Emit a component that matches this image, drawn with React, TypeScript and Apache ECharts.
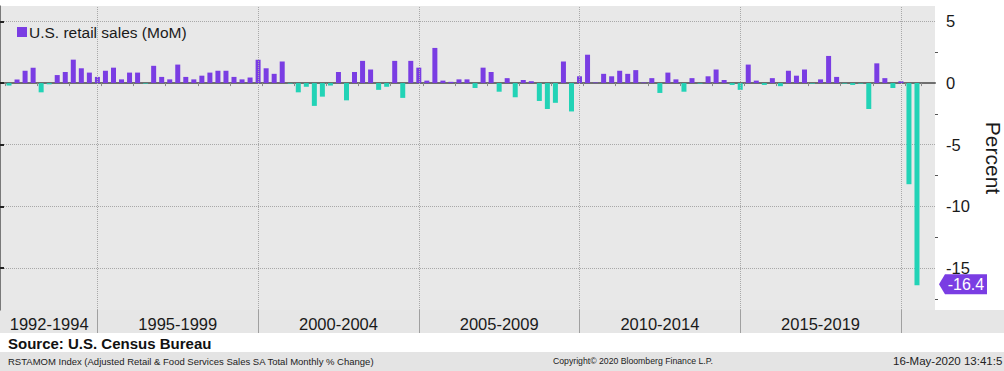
import React, { useEffect, useRef } from "react";
import * as echarts from "echarts";

const seriesName = "U.S. retail sales (MoM)";
const values = [
  -0.2, 0.3, 1.0, 1.25, -0.75, -0.1, 0.65, 0.9, 1.9, 1.2,
  0.85, 0.5, 1.0, 1.25, 0.3, 0.85, 0.85, -0.05, 1.4, 0.5,
  0.3, 1.5, 0.5, 0.3, 0.6, 0.85, 1.0, 1.0, 0.5, 0.3,
  0.45, 1.9, 1.2, 0.75, 1.75, -0.05, -0.75, -0.3, -1.85, -1.1,
  -0.2, 0.9, -1.4, 0.9, 1.8, 1.1, -0.55, -0.3, 1.8, -1.2,
  1.8, 1.25, 0.2, 2.85, 0.2, 0.1, 0.3, 0.3, -0.4, 1.25,
  0.9, -0.7, 0.4, -1.15, 0.25, 0.15, -1.45, -2.1, -1.6, 1.75,
  -2.3, 0.55, 2.3, 0.05, 0.75, 0.55, 1.0, 0.75, 1.05, 0.05,
  0.4, -0.8, 0.85, 0.3, -0.7, 0.4, -0.05, 0.55, 1.1, 0.25,
  -0.15, -0.55, 1.5, 0.2, -0.15, 0.4, -0.25, 1.0, 0.6, 1.1,
  -0.05, 0.3, 2.2, 0.5, -0.05, -0.15, -0.05, -2.1, 1.6, 0.4,
  -0.4, 0.15, -8.2, -16.4,
];
const categories = values.map((_, i) => `P${i + 1}`);
const periodLabels = ["1992-1994", "1995-1999", "2000-2004", "2005-2009", "2010-2014", "2015-2019"];
const periodLabelIndex = [5, 21, 41, 61, 81, 101];
const periodBoundaryIndex = [11, 31, 51, 71, 91, 111];
const yTickValues = [5, 0, -5, -10, -15];
const yMinorTickValues = [2.5, -2.5, -7.5, -12.5, -17.5];
const yMin = -18.4;
const yMax = 6.25;
const lastValue = -16.4;

const PURPLE = "#7a3de3";
const TEAL = "#22d3b6";
const FONT = "Liberation Sans";
const TEXT = "#1a1a1a";

export default function App() {
  const ref = useRef<HTMLDivElement>(null);
  useEffect(() => {
    if (!ref.current) return;
    const chart = echarts.init(ref.current, undefined, { renderer: "svg" });
    const option: any = {
      animation: false,
      textStyle: { fontFamily: FONT },
      legend: {
        left: 12,
        top: 19,
        icon: "rect",
        itemWidth: 10,
        itemHeight: 10,
        itemGap: 4,
        textStyle: { fontSize: 15.5, color: TEXT, fontFamily: FONT, padding: [0, 0, 0, -3] },
        data: [seriesName],
      },
      grid: [
        { left: 0, top: 6, width: 935, height: 304, show: true, backgroundColor: "#e8e8e8", borderWidth: 0, outerBoundsMode: "none", containLabel: false },
        { left: 5, top: 6, width: 916, height: 304, outerBoundsMode: "none", containLabel: false },
      ],
      xAxis: [
        {
          gridIndex: 0, type: "value", min: 0, max: 1,
          axisLine: { show: true, lineStyle: { color: "#6e6e6e", width: 2 } },
          axisTick: { show: false }, axisLabel: { show: false }, splitLine: { show: false },
        },
        {
          gridIndex: 1, type: "category", data: categories, boundaryGap: true,
          axisLine: { show: false },
          axisTick: { show: true, interval: 3, length: 3, lineStyle: { color: "#8a8a8a" } },
          axisLabel: {
            interval: (i: number) => periodLabelIndex.includes(i),
            formatter: (_v: string, i: number) => {
              const k = periodLabelIndex.indexOf(i);
              return k >= 0 ? periodLabels[k] : "";
            },
            fontSize: 16.5, color: TEXT, fontFamily: FONT, margin: 5,
          },
          splitLine: { show: false },
        },
        {
          gridIndex: 1, type: "category", data: categories, boundaryGap: true, position: "bottom",
          axisLine: { show: false },
          axisTick: {
            show: true, alignWithLabel: true, length: 23,
            interval: (i: number) => periodBoundaryIndex.includes(i),
            lineStyle: { color: "#a0a0a0" },
          },
          axisLabel: { show: false },
          splitLine: { show: false },
        },
      ],
      yAxis: [
        {
          gridIndex: 0, type: "value", position: "right", min: yMin, max: yMax,
          axisLine: { show: true, lineStyle: { color: "#555", width: 1.5 } },
          axisTick: { show: true, customValues: yTickValues, length: 4, lineStyle: { color: "#222", width: 2 } },
          axisLabel: { customValues: yTickValues, fontSize: 16.5, color: TEXT, fontFamily: FONT, margin: 11 },
          splitLine: { show: true, lineStyle: { type: "dotted", color: "#a8a8a8", width: 1 } },
          name: "Percent", nameLocation: "middle", nameRotate: -90, nameGap: 48,
          nameTextStyle: { fontSize: 21, color: TEXT, fontFamily: FONT },
        },
        {
          gridIndex: 0, type: "value", position: "right", min: yMin, max: yMax,
          axisLine: { show: false },
          axisTick: { show: true, customValues: yMinorTickValues, length: 3, lineStyle: { color: "#555" } },
          axisLabel: { show: false }, splitLine: { show: false },
        },
        { gridIndex: 1, type: "value", min: yMin, max: yMax, show: false },
      ],
      series: [
        {
          type: "bar",
          name: seriesName,
          xAxisIndex: 1,
          yAxisIndex: 2,
          barWidth: 5,
          itemStyle: { color: PURPLE },
          data: values.map((v) => (v < 0 ? { value: v, itemStyle: { color: TEAL } } : v)),
          markLine: {
            silent: true,
            symbol: "none",
            label: { show: false },
            lineStyle: { type: "dotted", color: "#a8a8a8", width: 1 },
            data: periodBoundaryIndex.map((i) => ({ xAxis: categories[i] })),
          },
          markPoint: {
            symbol: "path://M0,10 L6,0 L48,0 L48,20 L6,20 Z",
            symbolSize: [48, 20],
            symbolOffset: [46, -1],
            itemStyle: { color: PURPLE },
            label: { show: true, color: "#fff", fontSize: 16, fontFamily: FONT, offset: [3, 0], formatter: "{c}" },
            data: [{ coord: [categories[values.length - 1], lastValue], value: lastValue }],
          },
        },
      ],
      graphic: [
        { type: "rect", z: -1, shape: { x: 0, y: 310, width: 1004, height: 23 }, style: { fill: "#e6e6e6" } },
        { type: "rect", z: -1, shape: { x: 0, y: 352, width: 1004, height: 19 }, style: { fill: "#e4e4e4" } },
        {
          type: "text", x: 8, y: 343,
          style: { text: "Source: U.S. Census Bureau", font: `bold 15px '${FONT}'`, fill: "#111", verticalAlign: "middle" },
        },
        {
          type: "text", x: 8, y: 361,
          style: { text: "RSTAMOM Index (Adjusted Retail & Food Services Sales SA Total Monthly % Change)", font: `9.5px '${FONT}'`, fill: "#222", verticalAlign: "middle" },
        },
        {
          type: "text", x: 553, y: 361,
          style: { text: "Copyright\u00a9 2020 Bloomberg Finance L.P.", font: `8.7px '${FONT}'`, fill: "#222", verticalAlign: "middle" },
        },
        {
          type: "text", x: 893, y: 361,
          style: { text: "16-May-2020 13:41:5", font: `11.5px '${FONT}'`, fill: "#222", verticalAlign: "middle" },
        },
      ],
    };
    chart.setOption(option);
    return () => chart.dispose();
  }, []);
  return <div ref={ref} style={{ position: "absolute", left: 0, top: 0, width: 1004, height: 371 }} />;
}
